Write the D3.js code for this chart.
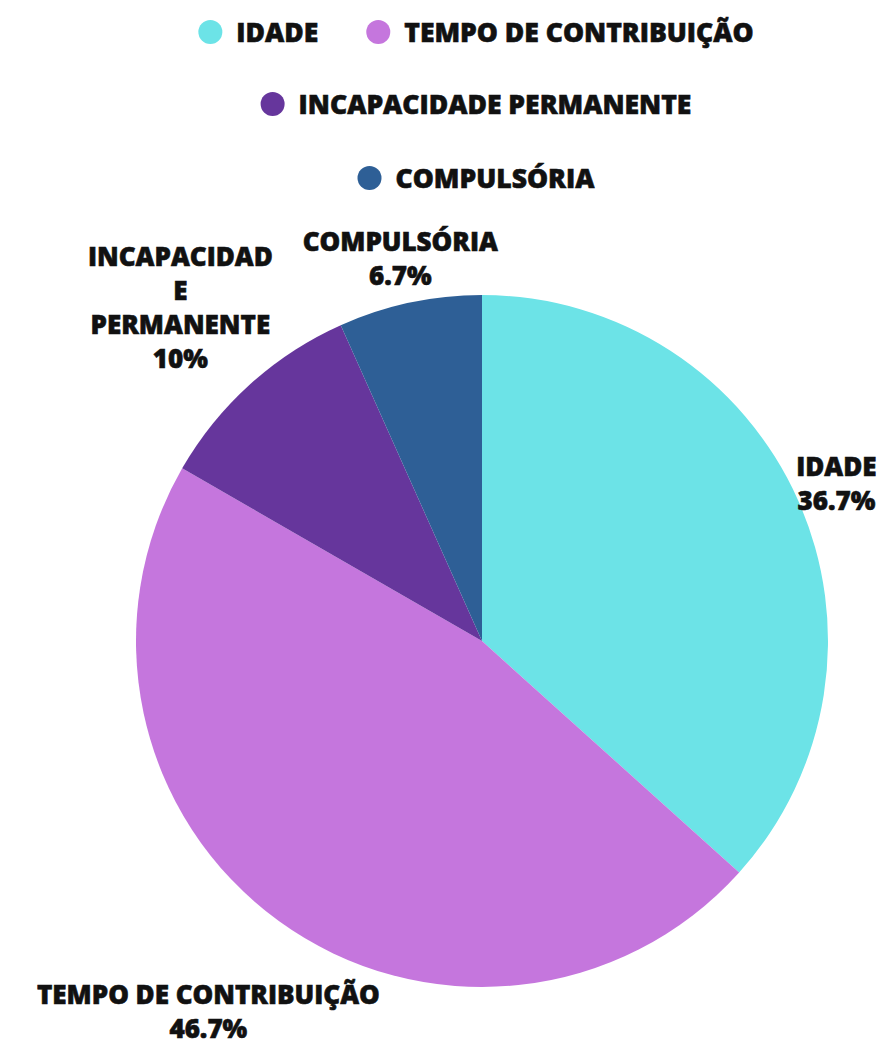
<!DOCTYPE html>
<html>
<head>
<meta charset="utf-8">
<script src="https://cdn.jsdelivr.net/npm/d3@7"></script>
<style>
  body { margin: 0; background: #fff; }
  text { font-family: "Open Sans", sans-serif; font-weight: 800; fill: #111; stroke: #111; stroke-width: 0.6px; }
</style>
</head>
<body>
<script>
// Data
var categories = ['IDADE', 'TEMPO DE CONTRIBUIÇÃO', 'INCAPACIDADE PERMANENTE', 'COMPULSÓRIA'];
var values = [36.7, 46.7, 10, 6.7];
var colors = ['#6ce3e7', '#c576dd', '#66369c', '#2e5f96'];
// label lines as they wrap in the picture
var labelLines = [['IDADE'], ['TEMPO DE CONTRIBUIÇÃO'], ['INCAPACIDAD', 'E', 'PERMANENTE'], ['COMPULSÓRIA']];
var legendRows = [[0, 1], [2], [3]];

var width = 896, height = 1047;
var cx = 482, cy = 641, radius = 346;

var svg = d3.select('body').append('svg')
    .attr('width', width)
    .attr('height', height);

var data = categories.map(function(c, i){
    return {name: c, value: values[i], color: colors[i], lines: labelLines[i]};
});

// Pie
var pie = d3.pie()
    .sort(null)
    .value(function(d){ return d.value; });

var arc = d3.arc()
    .innerRadius(0)
    .outerRadius(radius);

var g = svg.append('g')
    .attr('transform', 'translate(' + cx + ',' + cy + ')');

var arcs = pie(data);

g.selectAll('.slice')
    .data(arcs)
    .enter()
    .append('path')
    .attr('class', 'slice')
    .attr('d', arc)
    .style('fill', function(d){ return d.data.color; });

// Labels, pushed out of the circle by their own box size
var fontSize = 26, lineH = 34;
var labels = g.selectAll('.label')
    .data(arcs)
    .enter()
    .append('text')
    .attr('class', 'label')
    .attr('text-anchor', 'middle')
    .style('font-size', fontSize + 'px');

labels.each(function(d){
    var t = d3.select(this);
    var lines = d.data.lines.concat([d.data.value + '%']);
    lines.forEach(function(line, i){
        t.append('tspan')
            .attr('x', 0)
            .attr('dy', i === 0 ? 0 : lineH)
            .text(line);
    });
    var box = this.getBBox();
    var mid = (d.startAngle + d.endAngle) / 2;
    var dx = Math.sin(mid), dy = -Math.cos(mid);
    var ext = Math.abs(dx) * box.width / 2 + Math.abs(dy) * box.height / 2;
    var r = radius + ext - 9;
    var x = dx * r, y = dy * r;
    // centre the box at (x, y), but keep it inside the page
    var shiftY = y - (box.y + box.height / 2);
    var bottom = cy + shiftY + box.y + box.height;
    if (bottom > height - 1) shiftY -= bottom - (height - 1);
    t.attr('transform', 'translate(' + x + ',' + shiftY + ')');
});

// Legend
var legend = svg.append('g').attr('class', 'legend');
var rowY = [32, 104, 178];
var dotR = 12, dotGap = 14, itemGap = 48, legendCenter = 476;

legendRows.forEach(function(row, ri){
    var rowG = legend.append('g');
    var xPos = 0;
    row.forEach(function(idx){
        var item = rowG.append('g').attr('transform', 'translate(' + xPos + ',0)');
        item.append('circle')
            .attr('cx', dotR)
            .attr('cy', 0)
            .attr('r', dotR)
            .style('fill', colors[idx]);
        var txt = item.append('text')
            .attr('x', dotR * 2 + dotGap)
            .attr('y', 0)
            .attr('dy', '0.36em')
            .style('font-size', '26.5px')
            .text(categories[idx]);
        xPos += dotR * 2 + dotGap + txt.node().getComputedTextLength() + itemGap;
    });
    var rowW = xPos - itemGap;
    rowG.attr('transform', 'translate(' + (legendCenter - rowW / 2) + ',' + rowY[ri] + ')');
});
</script>
</body>
</html>
